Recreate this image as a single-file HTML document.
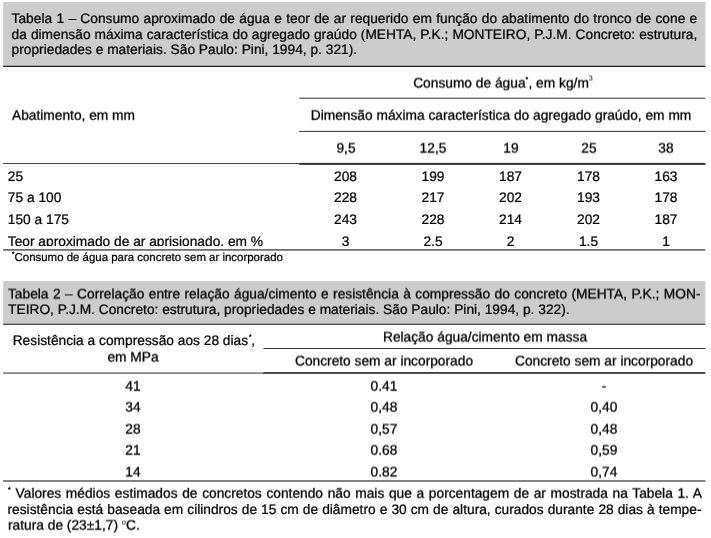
<!DOCTYPE html>
<html><head><meta charset="utf-8">
<style>
html,body{margin:0;padding:0;background:#fff;}
body{width:711px;height:538px;position:relative;overflow:hidden;font-family:"Liberation Sans",sans-serif;color:#000;font-size:13.76px;}
.t{text-rendering:geometricPrecision;-webkit-text-stroke:0.24px #000;position:absolute;white-space:nowrap;line-height:16px;}
.j{text-align:justify;text-align-last:justify;}
.c{text-align:center;}
sup{font-size:7.5px;vertical-align:baseline;position:relative;top:-6.2px;line-height:0;-webkit-text-stroke:0;}
.s{font-size:11.45px;}
.s sup{font-size:6.5px;top:-4.5px;}
</style></head><body><div style="position:absolute;left:0;top:0;width:711px;height:538px;will-change:transform;">
<svg width="711" height="538" style="position:absolute;left:0;top:0">
<rect x="3.1" y="1.9" width="702.3" height="64" fill="#cccccc"/>
<rect x="3.1" y="65.8" width="702.3" height="1.15" fill="#111"/>
<rect x="299.2" y="97.7" width="406.2" height="1" fill="#333"/>
<rect x="299.2" y="130.9" width="406.2" height="1" fill="#333"/>
<rect x="3.1" y="163" width="297" height="1" fill="#444"/>
<rect x="299.2" y="162.9" width="406.2" height="2" fill="#333"/>
<rect x="3.1" y="249.0" width="702.3" height="1.75" fill="#6e6e6e"/>
<rect x="3.1" y="281.1" width="702.3" height="42.7" fill="#cccccc"/>
<rect x="3.1" y="323.7" width="702.3" height="1.1" fill="#222"/>
<rect x="263.5" y="348" width="441.9" height="1" fill="#333"/>
<rect x="3.1" y="372.5" width="261" height="1.15" fill="#4a4a4a"/>
<rect x="263.5" y="372.2" width="441.9" height="1.5" fill="#111"/>
<rect x="3.1" y="480.1" width="702.3" height="1.8" fill="#767676"/>
</svg>
<div class="t j" style="left:11.6px;width:685.70px;top:10.50px;">Tabela 1 – Consumo aproximado de água e teor de ar requerido em função do abatimento do tronco de cone e</div>
<div class="t j" style="left:11.6px;width:685.70px;top:26.50px;">da dimensão máxima característica do agregado graúdo (MEHTA, P.K.; MONTEIRO, P.J.M. Concreto: estrutura,</div>
<div class="t" style="left:11.6px;top:41.50px;">propriedades e materiais. São Paulo: Pini, 1994, p. 321).</div>
<div class="t c" style="left:302.50px;width:400px;top:74.50px;transform:translate3d(0,0.50px,0) rotateX(0.01deg);-webkit-text-stroke-width:0.3px;">Consumo de água<sup style="top:-6.3px;font-size:6.8px;-webkit-text-stroke:0.3px #000;margin-right:0.3px">*</sup>, em kg/m<sup style="top:-7px;font-size:7.2px">3</sup></div>
<div class="t" style="left:12.2px;top:106.50px;transform:translate3d(0,0.70px,0) rotateX(0.01deg);-webkit-text-stroke-width:0.3px;">Abatimento, em mm</div>
<div class="t c" style="left:291.00px;width:420px;top:106.50px;transform:translate3d(0,0.70px,0) rotateX(0.01deg);-webkit-text-stroke-width:0.3px;">Dimensão máxima característica do agregado graúdo, em mm</div>
<div class="t c" style="left:305.50px;width:80px;top:139.50px;transform:translate3d(0,0.55px,0) rotateX(0.01deg);-webkit-text-stroke-width:0.3px;">9,5</div>
<div class="t c" style="left:393.00px;width:80px;top:139.50px;transform:translate3d(0,0.55px,0) rotateX(0.01deg);-webkit-text-stroke-width:0.3px;">12,5</div>
<div class="t c" style="left:470.50px;width:80px;top:139.50px;transform:translate3d(0,0.55px,0) rotateX(0.01deg);-webkit-text-stroke-width:0.3px;">19</div>
<div class="t c" style="left:548.50px;width:80px;top:139.50px;transform:translate3d(0,0.55px,0) rotateX(0.01deg);-webkit-text-stroke-width:0.3px;">25</div>
<div class="t c" style="left:626.00px;width:80px;top:139.50px;transform:translate3d(0,0.55px,0) rotateX(0.01deg);-webkit-text-stroke-width:0.3px;">38</div>
<div class="t" style="left:7.8px;top:168.50px;">25</div>
<div class="t c" style="left:305.50px;width:80px;top:168.50px;">208</div>
<div class="t c" style="left:393.00px;width:80px;top:168.50px;">199</div>
<div class="t c" style="left:470.50px;width:80px;top:168.50px;">187</div>
<div class="t c" style="left:548.50px;width:80px;top:168.50px;">178</div>
<div class="t c" style="left:626.00px;width:80px;top:168.50px;">163</div>
<div class="t" style="left:7.8px;top:189.50px;">75 a 100</div>
<div class="t c" style="left:305.50px;width:80px;top:189.50px;">228</div>
<div class="t c" style="left:393.00px;width:80px;top:189.50px;">217</div>
<div class="t c" style="left:470.50px;width:80px;top:189.50px;">202</div>
<div class="t c" style="left:548.50px;width:80px;top:189.50px;">193</div>
<div class="t c" style="left:626.00px;width:80px;top:189.50px;">178</div>
<div class="t" style="left:7.8px;top:211.50px;">150 a 175</div>
<div class="t c" style="left:305.50px;width:80px;top:211.50px;">243</div>
<div class="t c" style="left:393.00px;width:80px;top:211.50px;">228</div>
<div class="t c" style="left:470.50px;width:80px;top:211.50px;">214</div>
<div class="t c" style="left:548.50px;width:80px;top:211.50px;">202</div>
<div class="t c" style="left:626.00px;width:80px;top:211.50px;">187</div>
<div style="position:absolute;left:0;top:225px;width:711px;height:20.5px;overflow:hidden;">
<div class="t" style="left:7.8px;top:8.50px;">Teor aproximado de ar aprisionado, em %</div>
<div class="t c" style="left:305.50px;width:80px;top:8.50px;">3</div>
<div class="t c" style="left:393.00px;width:80px;top:8.50px;">2.5</div>
<div class="t c" style="left:470.50px;width:80px;top:8.50px;">2</div>
<div class="t c" style="left:548.50px;width:80px;top:8.50px;">1.5</div>
<div class="t c" style="left:626.00px;width:80px;top:8.50px;">1</div>
</div>
<div class="t s" style="left:12.1px;top:250.00px;"><sup style="top:-5px;font-size:6.3px;-webkit-text-stroke:0.3px #000;">*</sup>Consumo de água para concreto sem ar incorporado</div>
<div class="t j" style="left:8.1px;width:692.50px;top:285.50px;transform:translate3d(0,0.40px,0) rotateX(0.01deg);-webkit-text-stroke-width:0.3px;">Tabela 2 – Correlação entre relação água/cimento e resistência à compressão do concreto (MEHTA, P.K.; MON-</div>
<div class="t" style="left:8.1px;top:301.50px;">TEIRO, P.J.M. Concreto: estrutura, propriedades e materiais. São Paulo: Pini, 1994, p. 322).</div>
<div class="t c" style="left:334.60px;width:300px;top:328.50px;transform:translate3d(0,0.45px,0) rotateX(0.01deg);-webkit-text-stroke-width:0.3px;">Relação água/cimento em massa</div>
<div class="t" style="left:12.7px;top:332.50px;">Resistência a compressão aos 28 dias<sup style='top:-5.8px;font-size:6.8px;-webkit-text-stroke:0.3px #000;margin-left:0.9px;margin-right:-0.3px'>*</sup>,</div>
<div class="t c" style="left:83.40px;width:100px;top:348.50px;transform:translate3d(0,0.50px,0) rotateX(0.01deg);-webkit-text-stroke-width:0.3px;">em MPa</div>
<div class="t c" style="left:273.90px;width:220px;top:352.50px;transform:translate3d(0,0.40px,0) rotateX(0.01deg);-webkit-text-stroke-width:0.3px;">Concreto sem ar incorporado</div>
<div class="t c" style="left:493.90px;width:220px;top:352.50px;transform:translate3d(0,0.40px,0) rotateX(0.01deg);-webkit-text-stroke-width:0.3px;">Concreto sem ar incorporado</div>
<div class="t c" style="left:103.30px;width:60px;top:377.50px;transform:translate3d(0,0.60px,0) rotateX(0.01deg);-webkit-text-stroke-width:0.3px;">41</div>
<div class="t c" style="left:343.60px;width:80px;top:377.50px;transform:translate3d(0,0.60px,0) rotateX(0.01deg);-webkit-text-stroke-width:0.3px;">0.41</div>
<div class="t c" style="left:564.20px;width:80px;top:377.50px;transform:translate3d(0,0.60px,0) rotateX(0.01deg);-webkit-text-stroke-width:0.3px;">-</div>
<div class="t c" style="left:103.30px;width:60px;top:398.50px;transform:translate3d(0,0.55px,0) rotateX(0.01deg);-webkit-text-stroke-width:0.3px;">34</div>
<div class="t c" style="left:343.60px;width:80px;top:398.50px;transform:translate3d(0,0.55px,0) rotateX(0.01deg);-webkit-text-stroke-width:0.3px;">0,48</div>
<div class="t c" style="left:564.20px;width:80px;top:398.50px;transform:translate3d(0,0.55px,0) rotateX(0.01deg);-webkit-text-stroke-width:0.3px;">0,40</div>
<div class="t c" style="left:103.30px;width:60px;top:420.50px;transform:translate3d(0,0.55px,0) rotateX(0.01deg);-webkit-text-stroke-width:0.3px;">28</div>
<div class="t c" style="left:343.60px;width:80px;top:420.50px;transform:translate3d(0,0.55px,0) rotateX(0.01deg);-webkit-text-stroke-width:0.3px;">0,57</div>
<div class="t c" style="left:564.20px;width:80px;top:420.50px;transform:translate3d(0,0.55px,0) rotateX(0.01deg);-webkit-text-stroke-width:0.3px;">0,48</div>
<div class="t c" style="left:103.30px;width:60px;top:441.50px;transform:translate3d(0,0.60px,0) rotateX(0.01deg);-webkit-text-stroke-width:0.3px;">21</div>
<div class="t c" style="left:343.60px;width:80px;top:441.50px;transform:translate3d(0,0.60px,0) rotateX(0.01deg);-webkit-text-stroke-width:0.3px;">0.68</div>
<div class="t c" style="left:564.20px;width:80px;top:441.50px;transform:translate3d(0,0.60px,0) rotateX(0.01deg);-webkit-text-stroke-width:0.3px;">0,59</div>
<div class="t c" style="left:103.30px;width:60px;top:463.50px;transform:translate3d(0,0.40px,0) rotateX(0.01deg);-webkit-text-stroke-width:0.3px;">14</div>
<div class="t c" style="left:343.60px;width:80px;top:463.50px;transform:translate3d(0,0.40px,0) rotateX(0.01deg);-webkit-text-stroke-width:0.3px;">0.82</div>
<div class="t c" style="left:564.20px;width:80px;top:463.50px;transform:translate3d(0,0.40px,0) rotateX(0.01deg);-webkit-text-stroke-width:0.3px;">0,74</div>
<div class="t j" style="left:7.5px;width:694.00px;top:484.50px;transform:translate3d(0,0.70px,0) rotateX(0.01deg);-webkit-text-stroke-width:0.3px;"><sup style="top:-6.1px;font-size:6.8px;-webkit-text-stroke:0.35px #000;margin-right:0.3px">*</sup> Valores médios estimados de concretos contendo não mais que a porcentagem de ar mostrada na Tabela 1. A</div>
<div class="t j" style="left:7.5px;width:694.00px;top:501.50px;">resistência está baseada em cilindros de 15 cm de diâmetro e 30 cm de altura, curados durante 28 dias à tempe-</div>
<div class="t" style="left:7.5px;top:516.50px;transform:translate3d(0,0.60px,0) rotateX(0.01deg);-webkit-text-stroke-width:0.3px;">ratura de (23±1,7) <sup style='top:-4.8px'>o</sup>C.</div>
</div></body></html>
